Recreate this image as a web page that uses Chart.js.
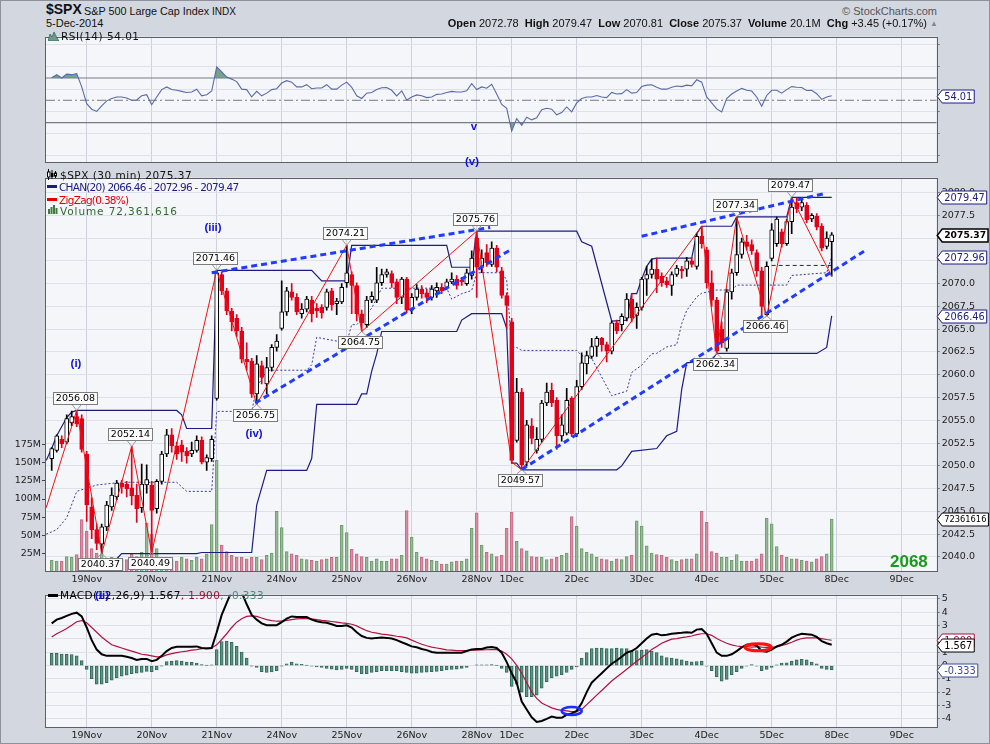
<!DOCTYPE html>
<html>
<head>
<meta charset="utf-8">
<script src="https://cdn.jsdelivr.net/npm/chart.js@4.4.1/dist/chart.umd.min.js"></script>
<style>
    body { margin: 0; width: 990px; height: 744px; overflow: hidden; position: relative; background: #d3d7e0; font-family: "DejaVu Sans", sans-serif; }
    canvas { position: absolute; left: 0; }
    .t { position: absolute; white-space: nowrap; line-height: 12px; }
    .hd { font-family: "Liberation Sans", Arial, sans-serif; color: #111; }
    .lg { font-size: 10.5px; }
    .ic { display: inline-block; width: 10px; height: 3px; vertical-align: middle; margin: 0 2px 2px 0; }
    .wave { font-family: "Liberation Sans", Arial, sans-serif; font-weight: bold; font-size: 11.5px; color: #1010e8; transform: translate(-50%, -50%); }
    #frame { position: absolute; left: 0; top: 0; width: 988px; height: 742px; border: 1px solid #8c919c; pointer-events: none; }
</style>
</head>
<body>
<canvas id="rsiChart" width="990" height="141" style="top:29px"></canvas>
<canvas id="mainChart" width="990" height="420" style="top:170px"></canvas>
<canvas id="macdChart" width="990" height="157" style="top:587px"></canvas>

<!-- header -->
<div class="t hd" style="left:46px;top:3px;font-size:14px;font-weight:bold">$SPX</div>
<div class="t hd" style="left:84px;top:5px;font-size:10.8px">S&amp;P 500 Large Cap Index</div>
<div class="t hd" style="left:212px;top:6px;font-size:10px">INDX</div>
<div class="t hd" style="left:46px;top:17px;font-size:11px">5-Dec-2014</div>
<div class="t hd" style="right:53px;top:5px;font-size:11px;color:#555">&#169; StockCharts.com</div>
<div class="t hd" style="right:63px;top:17px;font-size:11px"><b>Open</b> 2072.78&nbsp; <b>High</b> 2079.47&nbsp; <b>Low</b> 2070.81&nbsp; <b>Close</b> 2075.37&nbsp; <b>Volume</b> 20.1M&nbsp; <b>Chg</b> +3.45 (+0.17%)</div>
<div class="t hd" style="left:930px;top:18px;font-size:8px;color:#888">&#9650;</div>

<!-- panel legends -->
<svg style="position:absolute;left:48px;top:31px" width="11" height="10"><path d="M0 10 L2 3 L4 6 L6 1 L9 7 L11 10 Z" fill="#6a9a88" stroke="#3d6b5a" stroke-width="0.8"/></svg>
<div class="t lg" style="left:61px;top:30px;color:#111;letter-spacing:0.5px">RSI(14) 54.01</div>

<svg style="position:absolute;left:47px;top:169px" width="10" height="11"><path d="M1.5 0 V11 M5 1 V10 M8.5 2 V9" stroke="#000" stroke-width="1"/><rect x="0.5" y="3" width="2.5" height="5" fill="#fff" stroke="#000" stroke-width="1"/><rect x="4" y="4" width="2.5" height="4" fill="#000"/><rect x="7.5" y="4" width="2" height="3" fill="#fff" stroke="#000" stroke-width="1"/></svg>
<div class="t lg" style="left:60px;top:169px;color:#111;letter-spacing:0.5px">$SPX (30 min) 2075.37</div>
<div class="t lg" style="left:47px;top:180.5px;color:#1c1c80;letter-spacing:-0.75px"><span class="ic" style="background:#1c1c80"></span>CHAN(20) 2066.46 - 2072.96 - 2079.47</div>
<div class="t lg" style="left:47px;top:193.5px;color:#e00000;letter-spacing:-0.7px"><span class="ic" style="background:#e00000"></span>ZigZag(0.38%)</div>
<svg style="position:absolute;left:48px;top:205px" width="11" height="9"><path d="M1 9 V4 M3.5 9 V2 M6 9 V0 M8.5 9 V3" stroke="#3f7a3f" stroke-width="2"/></svg>
<div class="t lg" style="left:60px;top:204.5px;color:#2f6a2f;letter-spacing:0.9px">Volume 72,361,616</div>

<div class="t lg" style="left:48px;top:589px;color:#000;letter-spacing:0.4px"><span class="ic" style="background:#000"></span>MACD(12,26,9) 1.567<span style="color:#a0103a">, 1.900</span><span style="color:#4a8a7a">, -0.333</span></div>

<!-- Elliott wave labels -->
<div class="t wave" style="left:76px;top:363px">(i)</div>
<div class="t wave" style="left:213px;top:227px">(iii)</div>
<div class="t wave" style="left:254px;top:433px">(iv)</div>
<div class="t wave" style="left:474px;top:126px">v</div>
<div class="t wave" style="left:472px;top:161px">(v)</div>
<div class="t wave" style="left:102px;top:595px">(ii)</div>

<div class="t" style="left:890px;top:553px;font-family:'Liberation Sans',Arial,sans-serif;font-weight:bold;font-size:17px;line-height:18px;color:#1a9a1a">2068</div>
<div id="frame"></div>

<script>
// 30 min bars, 18 Nov (last 7 bars) to 5 Dec 2014, index 0..156
const open = [2050.8, 2051.7, 2052.9, 2052.6, 2054.7, 2055.4, 2055.2,
    2051.3, 2045.5, 2043.0, 2041.4, 2043.3, 2045.5, 2046.6, 2048.1, 2048.0, 2047.6, 2046.8, 2045.4, 2047.9,
    2047.9, 2045.3, 2048.3, 2051.3, 2053.4, 2052.2, 2052.3, 2051.6, 2051.3, 2051.7, 2052.8, 2050.4, 2050.8,
    2057.4, 2071.0, 2069.2, 2067.0, 2066.2, 2064.8, 2061.7, 2061.5, 2057.9, 2061.0, 2059.0, 2060.8, 2063.0,
    2065.1, 2066.9, 2069.1, 2068.5, 2066.7, 2067.2, 2068.2, 2067.3, 2067.4, 2067.4, 2069.2, 2067.8, 2068.0,
    2070.1, 2071.0, 2069.8, 2066.7, 2065.5, 2068.2, 2068.2, 2070.1, 2071.0, 2071.1, 2070.2, 2068.5, 2070.5,
    2067.1, 2068.5, 2069.4, 2069.0, 2068.5, 2069.2, 2069.6, 2069.6, 2070.2, 2070.5, 2070.4, 2070.0, 2070.9,
    2075.0, 2071.9, 2073.4, 2072.1, 2073.9, 2071.4, 2068.7,
    2065.8, 2052.8, 2058.1, 2050.4, 2054.4, 2051.7, 2052.9, 2056.9, 2058.3, 2057.2, 2053.3, 2053.6, 2057.4,
    2053.5, 2058.7, 2061.2, 2062.0, 2063.1, 2064.0, 2063.3, 2062.6, 2065.7, 2065.5, 2066.2, 2068.3, 2066.5,
    2067.4, 2070.5, 2071.0, 2071.6, 2070.8, 2070.3, 2069.8, 2071.0, 2071.6, 2071.6, 2072.5, 2071.9, 2075.2,
    2073.7, 2070.1, 2068.2, 2065.0, 2062.9, 2069.1, 2071.2, 2073.2, 2074.6, 2074.3, 2073.4, 2071.4, 2066.6,
    2072.78, 2074.4, 2075.7, 2074.4, 2076.8, 2078.9, 2078.4, 2078.6, 2077.1, 2077.4, 2076.3, 2074.1, 2074.6];
const high = [2052.0, 2053.4, 2053.3, 2055.6, 2056.0, 2056.08, 2055.6,
    2051.6, 2046.5, 2043.6, 2043.6, 2046.1, 2047.6, 2048.4, 2048.4, 2048.3, 2052.14, 2048.0, 2050.2, 2050.1,
    2048.3, 2048.5, 2051.6, 2054.0, 2054.1, 2052.6, 2052.8, 2052.0, 2052.6, 2053.3, 2053.2, 2051.2, 2053.3,
    2071.46, 2071.3, 2069.5, 2067.3, 2066.6, 2065.2, 2063.5, 2061.8, 2062.1, 2061.5, 2061.9, 2063.3, 2064.4,
    2070.3, 2069.6, 2070.0, 2068.9, 2067.8, 2068.6, 2068.6, 2067.8, 2067.7, 2069.4, 2069.5, 2068.4, 2070.0,
    2074.21, 2071.3, 2070.1, 2067.1, 2068.6, 2069.1, 2071.8, 2071.6, 2071.6, 2071.4, 2070.5, 2070.7, 2070.7,
    2068.9, 2069.9, 2069.8, 2069.4, 2069.8, 2070.1, 2070.0, 2070.5, 2071.2, 2070.9, 2070.7, 2071.6, 2073.6,
    2075.76, 2073.7, 2074.3, 2074.6, 2074.2, 2071.8, 2069.0,
    2066.2, 2059.6, 2058.5, 2055.0, 2055.2, 2054.2, 2057.2, 2059.1, 2059.1, 2057.5, 2055.6, 2058.5, 2057.6,
    2059.4, 2062.4, 2062.6, 2064.0, 2064.2, 2064.1, 2063.6, 2065.9, 2066.0, 2066.7, 2068.9, 2068.9, 2067.9,
    2070.7, 2071.9, 2072.7, 2072.8, 2071.2, 2070.7, 2071.3, 2072.0, 2071.9, 2072.9, 2072.9, 2075.5, 2076.3,
    2074.0, 2071.4, 2068.5, 2065.8, 2069.4, 2071.6, 2077.34, 2075.0, 2075.3, 2074.8, 2073.7, 2071.8, 2072.4,
    2076.6, 2077.3, 2076.0, 2077.1, 2079.47, 2079.4, 2079.4, 2078.9, 2077.7, 2077.7, 2076.6, 2075.7, 2075.6];
const low = [2049.5, 2051.5, 2052.0, 2052.4, 2054.4, 2054.3, 2051.5,
    2043.9, 2042.0, 2040.8, 2040.37, 2042.9, 2045.1, 2046.3, 2047.0, 2046.6, 2045.7, 2043.8, 2044.9, 2047.0,
    2040.49, 2044.8, 2048.0, 2051.0, 2051.5, 2050.7, 2050.5, 2050.3, 2051.0, 2051.5, 2050.2, 2049.5, 2050.5,
    2057.2, 2068.8, 2066.6, 2064.8, 2064.2, 2061.3, 2060.5, 2057.5, 2056.75, 2059.0, 2057.9, 2060.4, 2062.6,
    2064.9, 2066.5, 2068.2, 2066.6, 2066.2, 2066.9, 2065.8, 2066.3, 2066.2, 2067.1, 2067.1, 2066.6, 2067.8,
    2069.6, 2066.7, 2065.9, 2064.75, 2065.2, 2067.9, 2067.9, 2069.8, 2070.7, 2069.6, 2067.8, 2067.8, 2066.8,
    2066.7, 2068.2, 2068.4, 2067.9, 2068.2, 2068.5, 2068.9, 2069.4, 2070.0, 2069.4, 2069.8, 2069.8, 2070.5,
    2068.5, 2071.2, 2071.9, 2071.9, 2071.3, 2068.4, 2065.1,
    2050.3, 2052.6, 2049.57, 2050.0, 2052.4, 2051.4, 2052.6, 2056.6, 2056.5, 2051.8, 2052.7, 2053.4, 2053.2,
    2053.2, 2058.4, 2060.1, 2061.8, 2062.0, 2062.6, 2061.4, 2062.3, 2064.5, 2064.8, 2065.9, 2065.8, 2065.1,
    2067.1, 2068.7, 2070.6, 2069.0, 2069.7, 2069.6, 2068.7, 2070.8, 2070.6, 2070.8, 2071.8, 2071.6, 2073.9,
    2069.5, 2067.5, 2062.34, 2063.0, 2062.6, 2068.3, 2070.9, 2072.8, 2073.7, 2073.2, 2070.8, 2066.6, 2066.46,
    2072.5, 2074.1, 2074.0, 2074.2, 2075.5, 2077.8, 2078.0, 2076.7, 2076.8, 2075.9, 2073.6, 2073.8, 2070.81];
const close = [2051.9, 2053.3, 2052.4, 2055.2, 2055.4, 2054.6, 2051.8,
    2045.7, 2043.0, 2041.5, 2043.3, 2045.7, 2046.8, 2048.1, 2047.7, 2047.5, 2046.7, 2045.3, 2048.0, 2048.5,
    2045.1, 2048.3, 2051.3, 2053.4, 2052.2, 2051.3, 2051.5, 2051.1, 2051.7, 2052.8, 2050.4, 2050.9, 2052.9,
    2071.2, 2069.2, 2067.0, 2065.8, 2064.8, 2061.7, 2061.4, 2057.9, 2061.2, 2059.7, 2060.8, 2063.0, 2063.7,
    2066.9, 2069.2, 2068.5, 2066.9, 2067.2, 2068.3, 2066.7, 2067.0, 2066.8, 2069.1, 2067.7, 2068.1, 2069.6,
    2071.2, 2069.8, 2066.7, 2065.7, 2068.2, 2068.6, 2070.1, 2071.0, 2071.3, 2070.1, 2068.5, 2070.5, 2067.1,
    2068.5, 2069.4, 2068.9, 2068.5, 2069.4, 2069.6, 2069.2, 2070.2, 2070.5, 2069.8, 2070.2, 2071.2, 2072.8,
    2071.8, 2072.8, 2072.3, 2073.9, 2071.8, 2068.7, 2067.6,
    2050.6, 2058.1, 2050.1, 2054.5, 2053.0, 2052.9, 2056.9, 2058.1, 2056.9, 2053.3, 2054.5, 2057.2, 2053.5,
    2058.7, 2061.3, 2062.1, 2063.1, 2064.0, 2063.3, 2062.6, 2065.7, 2064.8, 2066.4, 2068.3, 2066.2, 2067.4,
    2070.5, 2071.0, 2071.6, 2070.5, 2070.1, 2069.9, 2071.0, 2071.7, 2071.4, 2072.5, 2072.1, 2075.2, 2074.4,
    2070.1, 2068.2, 2062.6, 2063.5, 2069.1, 2071.2, 2073.2, 2074.6, 2074.1, 2073.6, 2071.4, 2067.5, 2071.9,
    2075.9, 2077.1, 2074.4, 2076.8, 2078.4, 2078.2, 2078.9, 2077.0, 2077.5, 2076.2, 2073.9, 2075.0, 2075.37];
// volume in millions
const volume = [16, 15, 15, 21, 20, 24, 72,
    56, 32, 26, 25, 18, 20, 17, 18, 17, 25, 21, 27, 67,
    52, 32, 20, 18, 17, 15, 20, 18, 16, 20, 18, 25, 65,
    153, 37, 28, 23, 20, 20, 18, 20, 20, 17, 23, 26, 83,
    61, 28, 25, 23, 18, 17, 16, 15, 17, 18, 20, 20, 64,
    54, 31, 25, 21, 20, 15, 18, 15, 15, 18, 18, 23, 84,
    48, 27, 20, 18, 16, 15, 11, 11, 14, 15, 15, 18, 60,
    81, 37, 27, 25, 21, 23, 60,
    82, 42, 32, 29, 21, 20, 20, 17, 18, 20, 23, 26, 76,
    63, 32, 27, 25, 20, 18, 17, 15, 18, 17, 21, 23, 70,
    63, 36, 26, 24, 23, 20, 17, 15, 17, 18, 18, 25, 83,
    68, 28, 26, 20, 20, 16, 24, 15, 15, 15, 18, 25, 74,
    66, 35, 23, 20, 18, 18, 16, 15, 14, 18, 21, 25, 72.36];

const rsi = [70.3, 73, 70, 73.5, 73, 74, 62,
    47, 42, 40, 45, 49.5, 51.6, 53, 53, 52, 50, 50.3, 54, 55,
    46, 53, 59.6, 62, 59.6, 59, 58, 57, 57.5, 60, 54, 55, 58.3,
    80, 75.6, 70.8, 69, 66.8, 60, 59.6, 53, 58, 54, 56.4, 59.6, 60.4,
    65.5, 67.6, 66.3, 62, 62, 64, 60.4, 61, 61, 64, 60, 60, 63.6,
    66.3, 61.7, 54, 51.6, 56.4, 57, 59.6, 61.2, 61.5, 59, 54, 58.5, 50.3,
    53, 54.8, 54, 52.4, 53, 55.3, 55.6, 57, 58, 57.5, 57.5, 58.5, 65,
    59.6, 62, 60.8, 64.4, 55.6, 46.3, 42.8,
    22.3, 33.5, 27.6, 34.8, 32.4, 34.3, 41.5, 42.8, 42, 37, 39, 44, 39.6,
    47.6, 51.6, 53, 53, 54.3, 53, 52.4, 57, 55.6, 56, 59.6, 56.4, 57,
    62.3, 63.6, 64, 61.7, 60, 60, 61.7, 62.8, 62.3, 63.6, 63, 68.4, 66.3,
    53, 47.6, 42.3, 39.6, 51.6, 55.6, 58.3, 60.7, 59, 58.3, 53, 44.7, 54.3,
    59, 59, 56.4, 59.6, 62.3, 61.7, 61.5, 58.8, 59, 55.9, 50.8, 53, 54.01];
const rsiLevels = [70, 50, 30];

const macd = [3.17, 3.45, 3.57, 3.73, 3.88, 3.97, 3.69,
    2.86, 1.91, 1.2, 0.85, 0.73, 0.73, 0.73, 0.73, 0.66, 0.57, 0.43, 0.5, 0.5,
    0.33, 0.43, 0.73, 1.09, 1.32, 1.42, 1.42, 1.42, 1.42, 1.44, 1.32, 1.28, 1.32,
    2.5, 3.8, 4.7, 5.6, 5.9, 5.5, 4.6, 3.8, 3.45, 3.17, 3.03, 3.03, 3.03,
    3.26, 3.52, 3.69, 3.64, 3.64, 3.64, 3.45, 3.33, 3.26, 3.21, 3.1, 2.98, 2.98,
    3.03, 2.86, 2.5, 2.22, 2.08, 2.03, 2.08, 2.1, 2.08, 2.03, 1.91, 1.75, 1.6,
    1.44, 1.37, 1.25, 1.16, 1.02, 0.97, 0.97, 0.97, 0.97, 0.97, 0.97, 1.09, 1.2,
    1.25, 1.25, 1.35, 1.39, 1.32, 0.97, 0.26,
    -0.57, -1.28, -2.7, -3.29, -3.88, -4.23, -4.16, -4.0, -3.83, -3.92, -3.92, -3.69, -3.59,
    -3.4, -2.81, -1.99, -1.28, -0.92, -0.57, -0.21, 0.14, 0.38, 0.66, 0.97, 1.09, 1.32,
    1.68, 2.03, 2.32, 2.39, 2.27, 2.32, 2.39, 2.43, 2.46, 2.5, 2.46, 2.7, 2.74,
    2.39, 1.68, 0.97, 0.73, 0.73, 0.85, 1.09, 1.37, 1.56, 1.61, 1.51, 1.09, 1.04,
    1.2, 1.44, 1.56, 1.8, 2.1, 2.27, 2.39, 2.36, 2.32, 2.15, 1.84, 1.68, 1.567];
const signal = [2.15, 2.39, 2.58, 2.79, 3.03, 3.29, 3.38,
    3.21, 2.86, 2.5, 2.15, 1.84, 1.56, 1.44, 1.32, 1.2, 1.09, 0.97, 0.85, 0.8,
    0.73, 0.66, 0.66, 0.8, 0.9, 0.97, 1.04, 1.09, 1.16, 1.2, 1.28, 1.32, 1.32,
    1.56, 1.96, 2.39, 2.86, 3.26, 3.52, 3.69, 3.73, 3.69, 3.57, 3.45, 3.38, 3.33,
    3.33, 3.4, 3.45, 3.5, 3.52, 3.52, 3.5, 3.45, 3.4, 3.36, 3.31, 3.26, 3.21,
    3.17, 3.1, 2.98, 2.79, 2.62, 2.5, 2.43, 2.36, 2.32, 2.27, 2.2, 2.15, 2.08,
    1.91, 1.75, 1.6, 1.49, 1.39, 1.32, 1.25, 1.18, 1.16, 1.13, 1.13, 1.13, 1.16,
    1.16, 1.18, 1.19, 1.2, 1.2, 1.09, 0.85,
    0.5, 0.02, -0.57, -1.28, -1.99, -2.46, -2.81, -3.0, -3.17, -3.29, -3.36, -3.4, -3.45,
    -3.45, -3.29, -2.93, -2.58, -2.22, -1.87, -1.51, -1.16, -0.85, -0.57, -0.28, 0.02, 0.33,
    0.61, 0.9, 1.2, 1.44, 1.68, 1.84, 1.99, 2.03, 2.1, 2.15, 2.22, 2.32, 2.39,
    2.39, 2.27, 2.03, 1.84, 1.68, 1.56, 1.47, 1.42, 1.42, 1.39, 1.42, 1.39, 1.37,
    1.39, 1.39, 1.51, 1.61, 1.75, 1.91, 2.03, 2.08, 2.08, 2.08, 2.03, 1.96, 1.9];
const histogram = [0.92, 0.92, 0.87, 0.85, 0.83, 0.73, 0.38,
    -0.28, -0.99, -1.39, -1.39, -1.28, -1.09, -0.92, -0.8, -0.71, -0.61, -0.57, -0.52, -0.43,
    -0.45, -0.33, -0.02, 0.31, 0.33, 0.38, 0.33, 0.26, 0.24, 0.19, 0.07, 0.02, 0.05,
    1.2, 1.8, 1.84, 1.75, 1.44, 1.02, 0.57, -0.02, -0.14, -0.45, -0.52, -0.47, -0.38,
    -0.02, 0.14, 0.26, 0.14, 0.09, 0.02, -0.05, -0.09, -0.14, -0.21, -0.26, -0.33, -0.28,
    -0.21, -0.28, -0.45, -0.61, -0.61, -0.52, -0.45, -0.38, -0.38, -0.38, -0.38, -0.45, -0.52,
    -0.57, -0.57, -0.52, -0.5, -0.45, -0.43, -0.38, -0.33, -0.28, -0.26, -0.21, -0.14, 0,
    0.05, 0.05, 0.05, 0.07, 0.02, -0.21, -0.52,
    -1.56, -1.39, -1.99, -2.34, -2.34, -2.22, -1.7, -1.23, -0.92, -0.8, -0.69, -0.52, -0.28,
    -0.09, 0.57, 0.97, 1.28, 1.32, 1.32, 1.28, 1.28, 1.32, 1.28, 1.28, 1.09, 1.13,
    1.16, 1.2, 1.09, 0.97, 0.73, 0.61, 0.57, 0.5, 0.43, 0.33, 0.28, 0.31, 0.33,
    -0.05, -0.38, -0.85, -1.16, -1.04, -0.69, -0.45, -0.21, -0.05, 0.07, -0.05, -0.38, -0.28,
    -0.14, 0.05, 0.19, 0.21, 0.33, 0.43, 0.47, 0.43, 0.26, 0.14, -0.21, -0.28, -0.333];

// price channel CHAN(20), [bar index, price] break points
const chanUpper = [[-1.1, 2050.6], [0, 2051.9], [1, 2053.3], [3, 2055.3], [4, 2055.9], [5, 2056.08], [25, 2056.08],
    [26, 2055.6], [27, 2054.1], [32, 2054.1], [33, 2071.46], [52, 2071.46], [54, 2070.3], [59, 2070.3],
    [60, 2074.21], [79, 2074.21], [80, 2071.8], [84, 2071.8], [85, 2075.76], [105, 2075.76], [106, 2074.6],
    [108, 2074.1], [112, 2065.9], [115, 2066.0], [116, 2068.9], [117, 2068.9], [118, 2070.5], [119, 2071.9],
    [120, 2072.7], [121, 2072.8], [128, 2072.8], [129, 2075.5], [130, 2076.3], [136, 2076.3], [137, 2077.34],
    [147, 2077.34], [148, 2079.47], [156, 2079.47]];
const chanLower = [[-1.1, 2034.4], [5, 2037.5], [6, 2038.0], [7, 2039.8], [13, 2039.8], [14, 2040.37], [29, 2040.37],
    [30, 2040.49], [40, 2040.49], [41, 2045.7], [43, 2049.5], [51, 2049.5], [52, 2050.8], [53, 2056.75],
    [61, 2056.75], [62, 2057.9], [63, 2057.9], [64, 2060.4], [65, 2062.3], [66, 2064.75], [81, 2064.75],
    [82, 2066.0], [84, 2066.7], [90, 2066.7], [91, 2065.1], [92, 2050.3], [93, 2050.3], [94, 2049.57],
    [113, 2049.57], [114, 2050.0], [116, 2051.6], [121, 2051.9], [123, 2053.3], [125, 2053.8], [126, 2058.4],
    [127, 2061.3], [132, 2061.6], [133, 2062.34], [153, 2062.34], [155, 2063.0], [156, 2066.46]];
const chanMid = [[-1.1, 2042.5], [1, 2043.0], [3, 2044.3], [5, 2047.2], [9, 2047.9], [14, 2048.2], [25, 2048.2],
    [27, 2047.2], [32, 2047.2], [33, 2055.98], [40, 2055.98], [41, 2058.6], [43, 2060.5], [51, 2060.5],
    [52, 2061.1], [53, 2064.1], [59, 2063.5], [60, 2065.5], [61, 2065.5], [62, 2066.05], [64, 2067.3],
    [66, 2069.5], [79, 2069.5], [80, 2068.3], [82, 2068.9], [84, 2069.25], [85, 2071.2], [90, 2071.2],
    [91, 2070.4], [92, 2063.0], [93, 2063.0], [94, 2062.67], [105, 2062.67], [106, 2062.1], [108, 2061.8],
    [112, 2057.7], [115, 2058.2], [116, 2060.25], [118, 2061.05], [120, 2062.3], [121, 2062.35], [123, 2063.05],
    [125, 2063.3], [126, 2065.6], [127, 2067.05], [129, 2068.55], [130, 2068.95], [133, 2069.3], [136, 2069.3],
    [137, 2069.84], [147, 2069.84], [148, 2070.9], [155, 2071.2], [156, 2072.96]];

// ZigZag(0.38%) pivots
const zzIdx = [-1.1, 5, 10, 16, 20, 33, 41, 59, 62, 85, 92, 94, 130, 133, 137, 143, 148, 156];
const zzVal = [2045.4, 2056.08, 2040.37, 2052.14, 2040.49, 2071.46, 2056.75, 2074.21, 2064.75, 2075.76,
    2050.4, 2049.57, 2076.3, 2062.34, 2077.34, 2066.46, 2079.47, 2070.81];
// labelled pivots, dir 1 = high (label above), -1 = low (label below)
const pivIdx = [5, 10, 16, 20, 33, 41, 59, 62, 85, 94, 133, 137, 143, 148];
const pivVal = [2056.08, 2040.37, 2052.14, 2040.49, 2071.46, 2056.75, 2074.21, 2064.75, 2075.76, 2049.57,
    2062.34, 2077.34, 2066.46, 2079.47];
const pivDir = [1, -1, 1, -1, 1, -1, 1, -1, 1, -1, -1, 1, -1, 1];

// hand drawn trend lines and the short level line
const trendA = [[32, 2071.2], [87.7, 2076.17]];
const trendB = [[40.7, 2056.9], [91.7, 2073.7]];
const trendC = [[94, 2049.6], [162.7, 2073.65]];
const trendD = [[118, 2075.2], [155, 2079.95]];
const levelLine = [[144, 2072.0], [156, 2072.0]];

// MACD circles [bar index, value]
const circleBlue = [104, -3.4];
const circleRed = [141.3, 1.37];

// x axis: day starts
const dayIdx = [7, 20, 33, 46, 59, 72, 85, 92, 105, 118, 131, 144, 157, 170];
const dayLbl = ['19Nov', '20Nov', '21Nov', '24Nov', '25Nov', '26Nov', '28Nov', '1Dec', '2Dec', '3Dec', '4Dec', '5Dec', '8Dec', '9Dec'];

const priceTicks = [2040, 2042.5, 2045, 2047.5, 2050, 2052.5, 2055, 2057.5, 2060, 2062.5, 2065, 2067.5, 2070, 2072.5, 2075, 2077.5, 2080];
const volTicks = [25, 50, 75, 100, 125, 150, 175];
const rsiTicks = [0, 10, 20, 30, 40, 50, 60, 70, 80, 90, 100];
const macdTicks = [-4, -3, -2, -1, 0, 1, 2, 3, 4, 5];

const XMIN = -1.14, XMAX = 177;
const NAVY = '#1c1c80';
const tickFont = { family: 'DejaVu Sans', size: 9.5 };

Chart.defaults.font.family = 'DejaVu Sans';
Chart.defaults.animation = false;

const pts = arr => arr.map(p => ({ x: p[0], y: p[1] }));
const series = arr => arr.map((v, i) => ({ x: i, y: v }));

function xAxis(showLabels, height) {
    return {
        type: 'linear', min: XMIN, max: XMAX, offset: false,
        afterBuildTicks: s => { s.ticks = dayIdx.map(v => ({ value: v })); },
        ticks: { display: showLabels, autoSkip: false, maxRotation: 0, padding: 2, color: '#222', font: tickFont,
            callback: (v, i) => dayLbl[i] },
        grid: { color: '#cfd2da', drawTicks: false, offset: false },
        border: { display: false },
        afterFit: s => { s.height = height; }
    };
}

function yRight(min, max, ticks, fmt, labelIf) {
    return {
        position: 'right', min: min, max: max,
        afterBuildTicks: s => { s.ticks = ticks.map(v => ({ value: v })); },
        ticks: { padding: 2, color: '#222', font: tickFont,
            callback: v => (labelIf && !labelIf(v)) ? '' : fmt(v) },
        grid: { color: '#dfe1e8', tickLength: 3, tickColor: '#777' },
        border: { display: false },
        afterFit: s => { s.width = 53.3; }
    };
}

// panel background and border
const framePlugin = {
    id: 'framePlugin',
    beforeDraw(chart) {
        const a = chart.chartArea, g = chart.ctx;
        g.save();
        g.fillStyle = '#f5f6fa';
        g.fillRect(a.left, a.top, a.right - a.left, a.bottom - a.top);
        g.restore();
    },
    afterDraw(chart) {
        const a = chart.chartArea, g = chart.ctx;
        g.save();
        g.strokeStyle = '#5c5f68';
        g.lineWidth = 1;
        g.strokeRect(Math.round(a.left) - 0.5, Math.round(a.top) + 0.5, Math.round(a.right - a.left) + 1, Math.round(a.bottom - a.top) - 1);
        g.restore();
    }
};

// last value tags on the right axis
function tagPlugin(tags) {
    return {
        id: 'tags',
        afterDraw(chart) {
            const g = chart.ctx, x = chart.chartArea.right + 0.5;
            g.save();
            tags.forEach(t => {
                const y = Math.round(chart.scales[t.axis].getPixelForValue(t.value)) + 0.5;
                g.font = (t.bold ? 'bold ' : '') + (t.size || 9.8) + 'px "DejaVu Sans"';
                const w = g.measureText(t.text).width + 4;
                g.beginPath();
                g.moveTo(x, y);
                g.lineTo(x + 5, y - 6.5);
                g.lineTo(x + 5 + w, y - 6.5);
                g.lineTo(x + 5 + w, y + 6.5);
                g.lineTo(x + 5, y + 6.5);
                g.closePath();
                g.fillStyle = '#fff';
                g.fill();
                g.strokeStyle = t.color;
                g.lineWidth = t.bold ? 1.5 : 1;
                g.stroke();
                g.fillStyle = t.color;
                g.textBaseline = 'middle';
                g.fillText(t.text, x + 7, y + 0.5);
            });
            g.restore();
        }
    };
}

// boxed price labels at the zigzag pivots
const pivotPlugin = {
    id: 'pivots',
    afterDatasetsDraw(chart) {
        const g = chart.ctx, sx = chart.scales.x, sy = chart.scales.y;
        g.save();
        g.font = '9.5px "DejaVu Sans"';
        g.textAlign = 'center';
        g.textBaseline = 'middle';
        pivIdx.forEach((p, k) => {
            const px = sx.getPixelForValue(p), py = sy.getPixelForValue(pivVal[k]);
            const txt = pivVal[k].toFixed(2);
            const w = Math.round(g.measureText(txt).width + 5), h = 12;
            const cx = Math.round(px - 1.5), cy = Math.round(py + (pivDir[k] > 0 ? -12 : 10.5));
            const edge = pivDir[k] > 0 ? cy + h / 2 : cy - h / 2;
            g.strokeStyle = '#9a9a9a';
            g.lineWidth = 1;
            g.beginPath();
            g.moveTo(px - 5, edge);
            g.lineTo(px, py);
            g.lineTo(px + 5, edge);
            g.stroke();
            g.fillStyle = '#fbfbfb';
            g.fillRect(cx - w / 2, cy - h / 2, w, h);
            g.strokeStyle = '#7c7c7c';
            g.strokeRect(cx - w / 2 + 0.5, cy - h / 2 + 0.5, w, h);
            g.fillStyle = '#000';
            g.fillText(txt, cx + 0.5, cy + 1);
        });
        g.restore();
    }
};

// hand drawn ellipses on the MACD panel
const circlePlugin = {
    id: 'circles',
    afterDatasetsDraw(chart) {
        const g = chart.ctx, sx = chart.scales.x, sy = chart.scales.y;
        g.save();
        g.lineWidth = 2.5;
        g.strokeStyle = '#1a2cff';
        g.beginPath();
        g.ellipse(sx.getPixelForValue(circleBlue[0]), sy.getPixelForValue(circleBlue[1]), 10, 4, 0, 0, Math.PI * 2);
        g.stroke();
        g.lineWidth = 3;
        g.strokeStyle = '#ff1010';
        g.beginPath();
        g.ellipse(sx.getPixelForValue(circleRed[0]), sy.getPixelForValue(circleRed[1]), 13, 3.5, 0, 0, Math.PI * 2);
        g.stroke();
        g.restore();
    }
};

function flatLine(level, color, dash, width) {
    return { type: 'line', data: [{ x: XMIN, y: level }, { x: XMAX, y: level }], borderColor: color,
        borderWidth: width, borderDash: dash, pointRadius: 0, order: 5 };
}

function drawRsi() {
    const line = series(rsi);
    new Chart(document.getElementById('rsiChart'), {
        type: 'line',
        data: {
            datasets: [
                { data: line, borderColor: '#5a6aa6', borderWidth: 1.1, pointRadius: 0, tension: 0, order: 1,
                    fill: { target: { value: rsiLevels[0] }, above: 'rgba(96,146,126,0.85)', below: 'rgba(0,0,0,0)' } },
                { data: line, borderWidth: 0, pointRadius: 0, tension: 0, order: 2,
                    fill: { target: { value: rsiLevels[2] }, above: 'rgba(0,0,0,0)', below: 'rgba(96,146,126,0.85)' } },
                flatLine(rsiLevels[0], '#777a82', [], 1.2),
                flatLine(rsiLevels[1], '#777a82', [9, 3, 2, 3], 1),
                flatLine(rsiLevels[2], '#777a82', [], 1.2)
            ]
        },
        options: {
            responsive: false,
            layout: { padding: { left: 46, top: 0, bottom: 0, right: 0 } },
            plugins: { legend: { display: false }, tooltip: { enabled: false } },
            scales: {
                x: xAxis(false, 0),
                y: yRight(-5.7, 107.1, rsiTicks, v => String(v), v => v % 20 === 10)
            }
        },
        plugins: [framePlugin, tagPlugin([{ axis: 'y', value: 54.01, text: '54.01', color: NAVY }])]
    });
}

function drawMain() {
    const idx = close.map((_, i) => i);
    const isUp = idx.map(i => close[i] >= open[i]);
    const volUp = idx.map(i => close[i] >= (i ? close[i - 1] : open[i]));

    const wicks = idx.map(i => ({ x: i, y: [low[i], high[i]] }));
    const bodies = idx.map(i => ({ x: i, y: [open[i], close[i]] }));
    const vols = series(volume);

    const trend = arr => ({ type: 'line', data: pts(arr), borderColor: '#1f3cff', borderWidth: 3,
        borderDash: [6, 4], pointRadius: 0, order: 0 });

    new Chart(document.getElementById('mainChart'), {
        data: {
            datasets: [
                trend(trendA), trend(trendB), trend(trendC), trend(trendD),
                { type: 'line', data: pts(zzIdx.map((v, k) => [v, zzVal[k]])), borderColor: '#ee1111', borderWidth: 1,
                    pointRadius: 0, tension: 0, order: 1 },
                { type: 'bar', data: bodies, grouped: false, barThickness: 4, borderSkipped: false, borderWidth: 1,
                    backgroundColor: isUp.map(u => u ? '#ffffff' : '#e5001a'),
                    borderColor: isUp.map(u => u ? '#000000' : '#e5001a'), order: 2 },
                { type: 'bar', data: wicks, grouped: false, barThickness: 1, borderWidth: 0,
                    backgroundColor: isUp.map(u => u ? '#000000' : '#e5001a'), order: 3 },
                { type: 'line', data: pts(chanUpper), borderColor: NAVY, borderWidth: 1.2, pointRadius: 0, order: 4 },
                { type: 'line', data: pts(chanLower), borderColor: NAVY, borderWidth: 1.2, pointRadius: 0, order: 4 },
                { type: 'line', data: pts(chanMid), borderColor: '#3a3aa0', borderWidth: 1, borderDash: [2, 2],
                    pointRadius: 0, order: 4 },
                { type: 'line', data: pts(levelLine), borderColor: NAVY, borderWidth: 1, borderDash: [4, 3],
                    pointRadius: 0, order: 4 },
                { type: 'bar', yAxisID: 'yv', data: vols, grouped: false, barThickness: 3, borderWidth: 1,
                    borderSkipped: 'bottom',
                    backgroundColor: volUp.map(u => u ? 'rgba(150,186,150,0.9)' : 'rgba(214,142,162,0.9)'),
                    borderColor: volUp.map(u => u ? '#6f9c6f' : '#c46a86'), order: 10 }
            ]
        },
        options: {
            responsive: false,
            layout: { padding: 0 },
            plugins: { legend: { display: false }, tooltip: { enabled: false } },
            scales: {
                x: xAxis(true, 18),
                y: yRight(2038.35, 2081.63, priceTicks, v => v.toFixed(1)),
                yv: {
                    position: 'left', min: 0, max: 540.3,
                    afterBuildTicks: s => { s.ticks = volTicks.map(v => ({ value: v })); },
                    ticks: { padding: 1, color: '#222', font: tickFont, callback: v => v + 'M' },
                    grid: { drawOnChartArea: false, tickLength: 4, tickColor: '#444' },
                    border: { display: false },
                    afterFit: s => { s.width = 46; }
                }
            }
        },
        plugins: [framePlugin, pivotPlugin, tagPlugin([
            { axis: 'y', value: 2079.47, text: '2079.47', color: NAVY },
            { axis: 'y', value: 2072.96, text: '2072.96', color: NAVY },
            { axis: 'y', value: 2066.46, text: '2066.46', color: NAVY },
            { axis: 'y', value: 2075.37, text: '2075.37', color: '#000', bold: true, size: 9.2 },
            { axis: 'yv', value: 72.361616, text: '72361616', color: '#000', size: 8.3 }
        ])]
    });
}

function drawMacd() {
    new Chart(document.getElementById('macdChart'), {
        data: {
            datasets: [
                { type: 'line', data: series(macd), borderColor: '#000', borderWidth: 2, pointRadius: 0, tension: 0, order: 0 },
                { type: 'line', data: series(signal), borderColor: '#b0143f', borderWidth: 1.2, pointRadius: 0, tension: 0, order: 1 },
                { type: 'bar', data: series(histogram), grouped: false, barThickness: 3, borderWidth: 1, borderSkipped: false,
                    backgroundColor: '#5f9483', borderColor: '#2f6a5a', order: 2 }
            ]
        },
        options: {
            responsive: false,
            layout: { padding: { left: 46, top: 0, bottom: 0, right: 0 } },
            plugins: { legend: { display: false }, tooltip: { enabled: false } },
            scales: {
                x: xAxis(true, 16.3),
                y: yRight(-4.66, 5.32, macdTicks, v => String(v))
            }
        },
        plugins: [framePlugin, circlePlugin, tagPlugin([
            { axis: 'y', value: 1.9, text: '1.900', color: '#a0103a' },
            { axis: 'y', value: 1.567, text: '1.567', color: '#000' },
            { axis: 'y', value: -0.333, text: '-0.333', color: '#3a4a9a' }
        ])]
    });
}

drawRsi();
drawMain();
drawMacd();
</script>
</body>
</html>
